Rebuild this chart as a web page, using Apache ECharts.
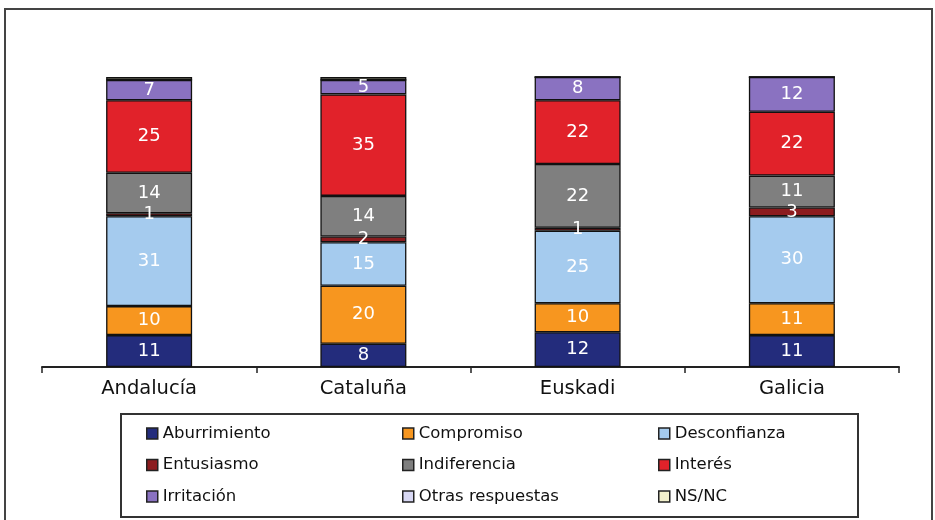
<!DOCTYPE html>
<html><head><meta charset="utf-8">
<script src="https://cdn.jsdelivr.net/npm/echarts@6/dist/echarts.min.js"></script>
<style>html,body{margin:0;padding:0;background:#fff}#c{width:935px;height:520px}</style>
</head><body><div id="c"></div>
<script>
const categories = ['Andalucía', 'Cataluña', 'Euskadi', 'Galicia'];
const seriesNames = ['Aburrimiento','Compromiso','Desconfianza','Entusiasmo','Indiferencia','Interés','Irritación','Otras respuestas','NS/NC'];
const aburrimiento = [11, 8, 12, 11];
const compromiso = [10, 20, 10, 11];
const desconfianza = [31, 15, 25, 30];
const entusiasmo = [1, 2, 1, 3];
const indiferencia = [14, 14, 22, 11];
const interes = [25, 35, 22, 22];
const irritacion = [7, 5, 8, 12];
const otras = [0, 0, 0, 0];
const nsnc = [1, 1, 0, 0];
const colors = ['#232c7c','#f7961f','#a5cbee','#8c1c1f','#7f7f7f','#e1222a','#8a72c1','#d7d7f3','#f2f0cc'];
const values = [aburrimiento, compromiso, desconfianza, entusiasmo, indiferencia, interes, irritacion, otras, nsnc];
const FONT = 'DejaVu Sans';

const series = seriesNames.map((n, i) => ({
  name: n, type: 'bar', stack: 'total', barWidth: 86,
  data: values[i],
  itemStyle: { color: colors[i], borderColor: '#111', borderWidth: 1.3 },
  label: {
    show: i < 7, position: 'inside', color: '#fff', fontFamily: FONT, fontSize: 18,
    formatter: p => (p.value > 0 ? String(p.value) : '')
  },
  labelLayout: { hideOverlap: false }
}));

function legendCol(items, left) {
  return {
    orient: 'vertical', left: left, top: 420,
    itemWidth: 11, itemHeight: 11, icon: 'rect', itemGap: 14.5,
    itemStyle: { borderColor: '#222', borderWidth: 1.5 },
    textStyle: { fontFamily: FONT, fontSize: 16.5, color: '#111' },
    selectedMode: false,
    data: items
  };
}

const chart = echarts.init(document.getElementById('c'), null, { renderer: 'canvas' });
chart.setOption({
  animation: false,
  color: colors,
  grid: { left: 42, right: 36, top: 77, bottom: 153 },
  xAxis: {
    type: 'category', data: categories,
    axisLine: { lineStyle: { color: '#222', width: 2 } },
    axisTick: { show: true, length: 6, lineStyle: { color: '#222', width: 1.5 } },
    axisLabel: { fontFamily: FONT, fontSize: 19.5, color: '#111', margin: 12 }
  },
  yAxis: { type: 'value', min: 0, max: 100, show: false, splitLine: { show: false } },
  legend: [
    legendCol(['Aburrimiento','Entusiasmo','Irritación'], 141),
    legendCol(['Compromiso','Indiferencia','Otras respuestas'], 397),
    legendCol(['Desconfianza','Interés','NS/NC'], 653)
  ],
  graphic: [
    { type: 'rect', shape: { x: 5, y: 9, width: 927, height: 530 }, style: { fill: 'none', stroke: '#444', lineWidth: 2 }, silent: true },
    { type: 'rect', shape: { x: 121, y: 414, width: 737, height: 103 }, style: { fill: 'none', stroke: '#333', lineWidth: 2 }, silent: true }
  ],
  series: series
});
</script>
</body></html>
